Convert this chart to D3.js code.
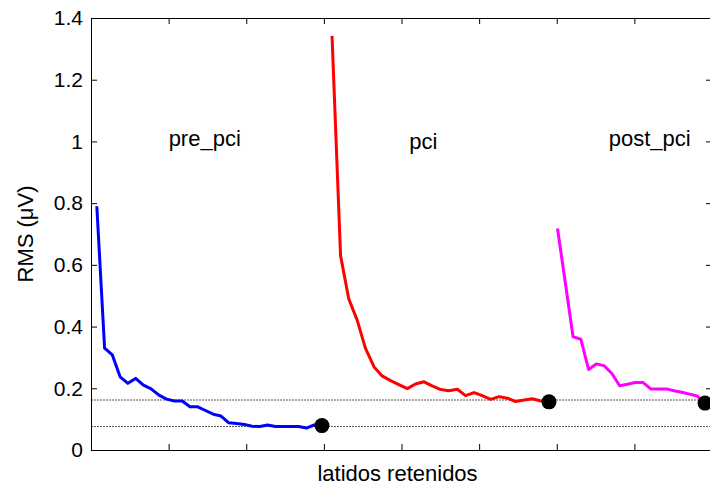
<!DOCTYPE html>
<html>
<head>
<meta charset="utf-8">
<script src="https://cdn.jsdelivr.net/npm/d3@7"></script>
<style>
  body { margin: 0; background: #fff; }
  text { font-family: Arial, "Liberation Sans", sans-serif; }
</style>
</head>
<body>
<div id="chart"></div>
<script>
// series: pre_pci (blue), pci (red), post_pci (magenta)
const preX = [1.5, 3.5, 5.5, 7.5, 9.5, 11.5, 13.5, 15.5, 17.5, 19.5, 21.5, 23.5, 25.5, 27.5, 29.5,
  31.5, 33.5, 35.5, 37.5, 39.5, 41.5, 43.5, 45.5, 47.5, 49.5, 51.5, 53.5, 55.5, 57.5, 59.5];
const preY = [0.79, 0.33, 0.308, 0.237, 0.216, 0.232, 0.21, 0.198, 0.178, 0.165, 0.159, 0.159, 0.14, 0.14, 0.128,
  0.116, 0.11, 0.088, 0.086, 0.083, 0.077, 0.076, 0.081, 0.076, 0.076, 0.076, 0.076, 0.071, 0.081, 0.079];

const pciX = [62.1, 64.3, 66.4, 68.6, 70.7, 72.9, 75.0, 77.2, 79.3, 81.5, 83.6, 85.8, 87.9, 90.1,
  92.2, 94.4, 96.5, 98.7, 100.8, 103.0, 105.1, 107.3, 109.4, 111.6, 113.7, 115.9, 118.0];
const pciY = [1.342, 0.63, 0.49, 0.42, 0.33, 0.27, 0.24, 0.225, 0.212, 0.199, 0.214, 0.221, 0.208, 0.196,
  0.192, 0.197, 0.176, 0.186, 0.176, 0.164, 0.173, 0.168, 0.157, 0.162, 0.166, 0.159, 0.156];

const postX = [120.2, 124.2, 126.2, 128.2, 130.2, 132.2, 134.2, 136.2, 138.2, 140.2, 142.2, 144.2,
  146.2, 148.2, 150.2, 152.2, 154.2, 156.2, 158.2];
const postY = [0.718, 0.367, 0.359, 0.261, 0.279, 0.273, 0.248, 0.208, 0.213, 0.219, 0.219, 0.198,
  0.198, 0.198, 0.192, 0.187, 0.181, 0.175, 0.152];

const thresholds = [0.162, 0.076];

const labelNames = ["pre_pci", "pci", "post_pci"];
const labelX = [20, 82, 133.4];
const labelY = [1.01, 1.0, 1.01];

const yTicks = [0, 0.2, 0.4, 0.6, 0.8, 1, 1.2, 1.4];
const xTicks = [0, 20, 40, 60, 80, 100, 120, 140, 160];

const width = 710, height = 487;
const mLeft = 91, mRight = 712, mTop = 18, mBottom = 450;

const svg = d3.select("#chart").append("svg")
  .attr("width", width)
  .attr("height", height);

const x = d3.scaleLinear().domain([0, 160]).range([mLeft, mRight]);
const y = d3.scaleLinear().domain([0, 1.4]).range([mBottom, mTop]);

// threshold lines (dotted)
svg.selectAll(".thr")
  .data(thresholds)
  .enter().append("line")
  .attr("class", "thr")
  .attr("x1", mLeft).attr("x2", mRight)
  .attr("y1", d => y(d)).attr("y2", d => y(d))
  .style("stroke", "#555")
  .style("stroke-width", 1)
  .style("stroke-dasharray", "2,1");

// axes box with inward ticks
const fmt = d => d3.format("~g")(d);

svg.append("g")
  .attr("transform", `translate(0,${mBottom})`)
  .call(d3.axisBottom(x).tickValues(xTicks).tickFormat("").tickSizeInner(-6).tickSizeOuter(0));
svg.append("g")
  .attr("transform", `translate(0,${mTop})`)
  .call(d3.axisTop(x).tickValues(xTicks).tickFormat("").tickSizeInner(-6).tickSizeOuter(0));
svg.append("g")
  .attr("transform", `translate(${mLeft},0)`)
  .call(d3.axisLeft(y).tickValues(yTicks).tickFormat(fmt).tickSizeInner(-6).tickSizeOuter(0).tickPadding(8));
svg.append("g")
  .attr("transform", `translate(${mRight},0)`)
  .call(d3.axisRight(y).tickValues(yTicks).tickFormat("").tickSizeInner(-6).tickSizeOuter(0));

svg.selectAll(".domain").style("stroke", "#000");
svg.selectAll(".tick line").style("stroke", "#000");
svg.selectAll(".tick text")
  .style("font-size", "21px")
  .style("fill", "#000")
  .style("font-family", "Arial, 'Liberation Sans', sans-serif");

// series lines
const line = d3.line().x(d => x(d[0])).y(d => y(d[1]));
const series = [
  { xs: preX, ys: preY, color: "#0000ff" },
  { xs: pciX, ys: pciY, color: "#ff0000" },
  { xs: postX, ys: postY, color: "#ff00ff" }
];

series.forEach(s => {
  const pts = s.xs.map((v, i) => [v, s.ys[i]]);
  svg.append("path")
    .datum(pts)
    .attr("d", line)
    .style("fill", "none")
    .style("stroke", s.color)
    .style("stroke-width", 3)
    .style("stroke-linejoin", "round");
});

// end markers
svg.selectAll(".dot")
  .data(series)
  .enter().append("circle")
  .attr("class", "dot")
  .attr("cx", d => x(d.xs[d.xs.length - 1]))
  .attr("cy", d => y(d.ys[d.ys.length - 1]))
  .attr("r", 7.5)
  .style("fill", "#000");

// group labels
svg.selectAll(".lbl")
  .data(labelNames)
  .enter().append("text")
  .attr("class", "lbl")
  .attr("x", (d, i) => x(labelX[i]))
  .attr("y", (d, i) => y(labelY[i]))
  .attr("dy", "0.35em")
  .style("font-size", "22px")
  .text(d => d);

// axis titles
svg.append("text")
  .attr("x", (mLeft + mRight) / 2 - 4)
  .attr("y", 481)
  .attr("text-anchor", "middle")
  .style("font-size", "22px")
  .text("latidos retenidos");

svg.append("text")
  .attr("transform", `translate(33,${(mTop + mBottom) / 2}) rotate(-90)`)
  .attr("text-anchor", "middle")
  .style("font-size", "22px")
  .text("RMS (μV)");
</script>
</body>
</html>
